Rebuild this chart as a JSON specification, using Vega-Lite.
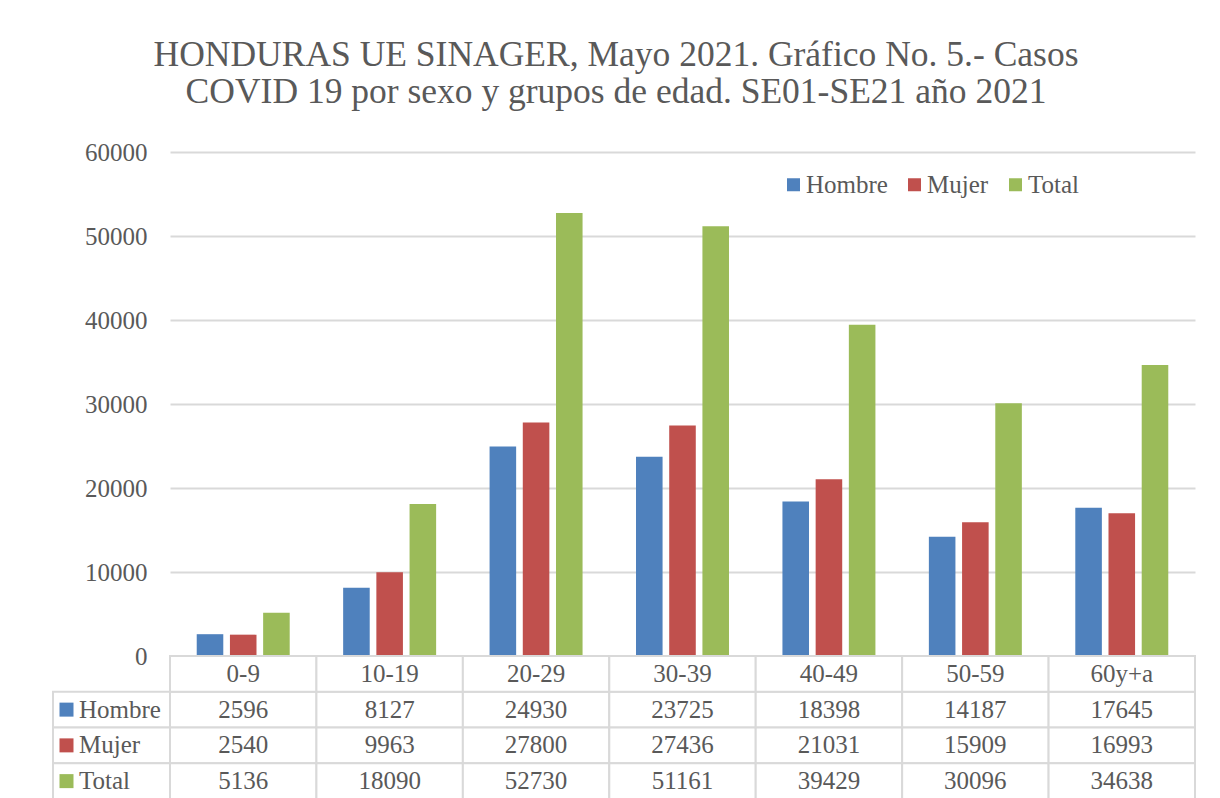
{
  "$schema": "https://vega.github.io/schema/vega-lite/v6.json",
  "padding": {"left": 52, "top": 37, "right": 25, "bottom": 0},
  "background": "white",
  "config": {
    "view": {"stroke": null},
    "font": "Liberation Serif",
    "concat": {"spacing": 0}
  },
  "title": {
    "text": ["HONDURAS UE SINAGER, Mayo 2021. Gráfico No. 5.- Casos", "COVID 19 por sexo y grupos de edad. SE01-SE21 año 2021"],
    "anchor": "middle",
    "fontSize": 35.5,
    "font": "Liberation Serif",
    "fontWeight": "normal",
    "color": "#595959",
    "lineHeight": 37,
    "offset": 30,
    "dx": -8
  },
  "datasets": {
    "d": [
      {"age": "0-9", "series": "Hombre", "value": 2596},
      {"age": "0-9", "series": "Mujer", "value": 2540},
      {"age": "0-9", "series": "Total", "value": 5136},
      {"age": "10-19", "series": "Hombre", "value": 8127},
      {"age": "10-19", "series": "Mujer", "value": 9963},
      {"age": "10-19", "series": "Total", "value": 18090},
      {"age": "20-29", "series": "Hombre", "value": 24930},
      {"age": "20-29", "series": "Mujer", "value": 27800},
      {"age": "20-29", "series": "Total", "value": 52730},
      {"age": "30-39", "series": "Hombre", "value": 23725},
      {"age": "30-39", "series": "Mujer", "value": 27436},
      {"age": "30-39", "series": "Total", "value": 51161},
      {"age": "40-49", "series": "Hombre", "value": 18398},
      {"age": "40-49", "series": "Mujer", "value": 21031},
      {"age": "40-49", "series": "Total", "value": 39429},
      {"age": "50-59", "series": "Hombre", "value": 14187},
      {"age": "50-59", "series": "Mujer", "value": 15909},
      {"age": "50-59", "series": "Total", "value": 30096},
      {"age": "60y+a", "series": "Hombre", "value": 17645},
      {"age": "60y+a", "series": "Mujer", "value": 16993},
      {"age": "60y+a", "series": "Total", "value": 34638}
    ]
  },
  "columns": 2,
  "align": "each",
  "bounds": "flush",
  "spacing": 0,
  "resolve": {"scale": {"color": "independent", "x": "independent", "y": "independent"}, "legend": {"color": "independent"}},
  "concat": [
    {
      "width": 117,
      "height": 504,
      "data": {"values": [{}]},
      "mark": {"type": "text"},
      "encoding": {"text": {"value": ""}}
    },
    {
      "width": 1025,
      "height": 504,
      "data": {"name": "d"},
      "mark": {"type": "bar"},
      "encoding": {
        "x": {"field": "age", "type": "nominal", "sort": null, "scale": {"paddingInner": 0.365, "paddingOuter": 0.1825}, "axis": null},
        "xOffset": {"field": "series", "type": "nominal", "sort": ["Hombre", "Mujer", "Total"], "scale": {"paddingInner": 0.2, "paddingOuter": 0}},
        "y": {
          "field": "value", "type": "quantitative",
          "scale": {"domain": [0, 60000], "nice": false},
          "axis": {
            "values": [0, 10000, 20000, 30000, 40000, 50000, 60000],
            "format": "d",
            "domain": false,
            "ticks": false,
            "title": null,
            "labelPadding": 23,
            "labelFontSize": 25,
            "labelFont": "Liberation Serif",
            "labelColor": "#595959",
            "gridColor": "#d9d9d9",
            "gridWidth": 2
          }
        },
        "color": {
          "field": "series", "type": "nominal",
          "scale": {"domain": ["Hombre", "Mujer", "Total"], "range": ["#4F81BD", "#C0504D", "#9BBB59"]},
          "legend": {
            "orient": "none",
            "legendX": 611,
            "legendY": 20,
            "direction": "horizontal",
            "title": null,
            "symbolType": "square",
            "symbolSize": 169,
            "symbolStrokeWidth": 0,
            "symbolOpacity": 1,
            "labelFontSize": 25,
            "labelFont": "Liberation Serif",
            "labelColor": "#595959",
            "labelOffset": 0,
            "columnPadding": 14,
            "padding": 0
          }
        }
      }
    },
    {
      "width": 117,
      "height": 143,
      "data": {"name": "d"},
      "transform": [{"filter": "datum.age === '0-9'"}],
      "encoding": {
        "y": {"field": "series", "type": "nominal", "scale": {"domain": ["cat", "Hombre", "Mujer", "Total"], "paddingInner": 0, "paddingOuter": 0}, "axis": null}
      },
      "layer": [
        {"mark": {"type": "rect", "fill": "white", "stroke": "#d9d9d9", "strokeWidth": 2}},
        {
          "mark": {"type": "point", "shape": "square", "filled": true, "opacity": 1, "size": 196, "xOffset": -45},
          "encoding": {
            "color": {"field": "series", "type": "nominal", "scale": {"domain": ["Hombre", "Mujer", "Total"], "range": ["#4F81BD", "#C0504D", "#9BBB59"]}, "legend": null}
          }
        },
        {
          "mark": {"type": "text", "align": "left", "baseline": "middle", "dx": -32.5, "fontSize": 25, "font": "Liberation Serif", "color": "#595959"},
          "encoding": {"text": {"field": "series"}}
        }
      ]
    },
    {
      "width": 1025,
      "height": 143,
      "data": {"name": "d"},
      "encoding": {
        "x": {"field": "age", "type": "nominal", "sort": null, "scale": {"paddingInner": 0, "paddingOuter": 0}, "axis": null}
      },
      "layer": [
        {
          "mark": {"type": "rect", "fill": "white", "stroke": "#d9d9d9", "strokeWidth": 2},
          "encoding": {
            "y": {"field": "series", "type": "nominal", "scale": {"domain": ["cat", "Hombre", "Mujer", "Total"], "paddingInner": 0, "paddingOuter": 0}, "axis": null}
          }
        },
        {
          "transform": [{"filter": "datum.series === 'Hombre'"}],
          "mark": {"type": "rect", "fill": "white", "stroke": "#d9d9d9", "strokeWidth": 2},
          "encoding": {
            "y": {"datum": "cat", "type": "nominal"}
          }
        },
        {
          "mark": {"type": "text", "baseline": "middle", "fontSize": 25, "font": "Liberation Serif", "color": "#595959"},
          "encoding": {
            "y": {"field": "series", "type": "nominal", "band": 0.5},
            "text": {"field": "value", "type": "quantitative", "format": "d"}
          }
        },
        {
          "transform": [{"filter": "datum.series === 'Hombre'"}],
          "mark": {"type": "text", "baseline": "middle", "fontSize": 25, "font": "Liberation Serif", "color": "#595959"},
          "encoding": {
            "y": {"datum": "cat", "type": "nominal"},
            "text": {"field": "age"}
          }
        }
      ]
    }
  ]
}
